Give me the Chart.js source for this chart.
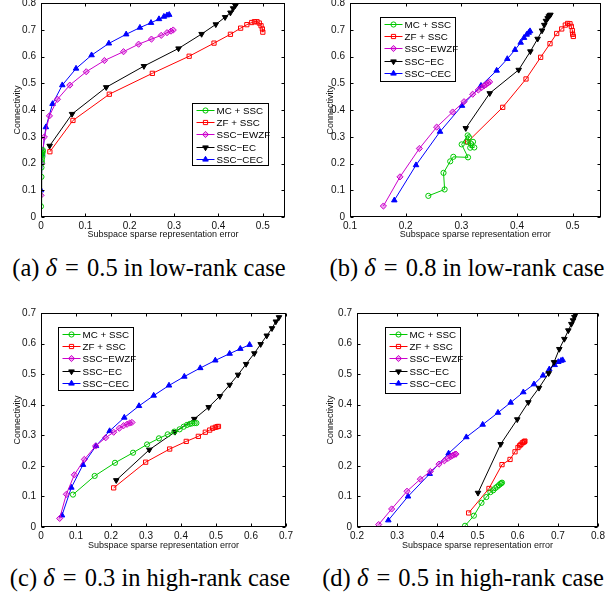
<!DOCTYPE html>
<html><head><meta charset="utf-8">
<script src="https://cdn.jsdelivr.net/npm/chart.js@4.4.1/dist/chart.umd.min.js"></script>
<style>
html,body{margin:0;padding:0;background:#fff;overflow:hidden;width:615px;height:598px;position:relative}
canvas{position:absolute}
.cap{position:absolute;font-family:"Liberation Serif","Times New Roman",serif;font-size:24.5px;color:#000;white-space:nowrap;transform:translate(-50%,-50%)}
.cap i{font-style:italic}
.cap .eq{margin:0 2px}
</style></head><body>
<canvas id="ca" width="300" height="257" style="left:0px;top:-12px"></canvas>
<canvas id="cb" width="315" height="257" style="left:300px;top:-12px"></canvas>
<canvas id="cc" width="300" height="262" style="left:0px;top:295px"></canvas>
<canvas id="cd" width="315" height="262" style="left:300px;top:295px"></canvas>
<div class="cap" style="left:149px;top:268px">(a) <i>δ</i> <span class="eq">=</span> 0.5 in low-rank case</div>
<div class="cap" style="left:467px;top:268px">(b) <i>δ</i> <span class="eq">=</span> 0.8 in low-rank case</div>
<div class="cap" style="left:150px;top:578px">(c) <i>δ</i> <span class="eq">=</span> 0.3 in high-rank case</div>
<div class="cap" style="left:463px;top:578px">(d) <i>δ</i> <span class="eq">=</span> 0.5 in high-rank case</div>
<script>
// ---------- DATA ----------
const seriesNames = ['MC + SSC','ZF + SSC','SSC\u2212EWZF','SSC\u2212EC','SSC\u2212CEC'];
const xTitle = 'Subspace sparse representation error';
const yTitle = 'Connectivity';

// (a) delta = 0.5, low-rank
const a_MC = [[0.000,0.040],[0.001,0.150],[0.001,0.185],[0.002,0.205],[0.002,0.215],[0.003,0.225],[0.003,0.235],[0.003,0.240],[0.004,0.245],[0.004,0.250]];
const a_ZF = [[0.020,0.244],[0.072,0.361],[0.154,0.459],[0.251,0.537],[0.334,0.601],[0.390,0.650],[0.427,0.683],[0.450,0.706],[0.464,0.719],[0.475,0.727],[0.481,0.730],[0.487,0.730],[0.492,0.725],[0.496,0.715],[0.499,0.703],[0.500,0.691]];
const a_EWZF = [[0.000,0.081],[0.0015,0.200],[0.0075,0.299],[0.019,0.378],[0.037,0.440],[0.065,0.493],[0.102,0.543],[0.143,0.585],[0.186,0.618],[0.220,0.646],[0.249,0.665],[0.271,0.679],[0.284,0.689],[0.293,0.695],[0.298,0.699]];
const a_EC = [[0.0195,0.266],[0.070,0.385],[0.147,0.485],[0.232,0.564],[0.310,0.630],[0.362,0.684],[0.394,0.720],[0.415,0.747],[0.427,0.764],[0.433,0.780],[0.438,0.791],[0.4415,0.800],[0.446,0.812]];
const a_CEC = [[0.000,0.100],[0.003,0.234],[0.011,0.336],[0.026,0.423],[0.048,0.493],[0.079,0.555],[0.114,0.605],[0.153,0.649],[0.192,0.683],[0.223,0.708],[0.248,0.726],[0.266,0.740],[0.277,0.749],[0.284,0.754],[0.289,0.756]];
const a_xTicks = [0,0.1,0.2,0.3,0.4,0.5];
const a_yTicks = [0,0.1,0.2,0.3,0.4,0.5,0.6,0.7,0.8];

// (b) delta = 0.8, low-rank
const b_MC = [[0.2407,0.079],[0.270,0.103],[0.268,0.165],[0.280,0.208],[0.2856,0.225],[0.312,0.223],[0.3006,0.2715],[0.3114,0.305],[0.3137,0.298],[0.3096,0.281],[0.3168,0.275],[0.316,0.259],[0.3233,0.260],[0.321,0.281]];
const b_ZF = [[0.3114,0.281],[0.3743,0.410],[0.4162,0.516],[0.4425,0.597],[0.4593,0.648],[0.4713,0.686],[0.4803,0.703],[0.4868,0.7175],[0.491,0.7235],[0.4952,0.7225],[0.4976,0.7125],[0.4994,0.697],[0.500,0.683],[0.5012,0.675]];
const b_EWZF = [[0.160,0.041],[0.1898,0.150],[0.2246,0.256],[0.2557,0.336],[0.2844,0.3925],[0.3048,0.431],[0.3204,0.459],[0.3305,0.475],[0.3365,0.484],[0.3407,0.490],[0.3443,0.495],[0.3479,0.501],[0.3509,0.505]];
const b_EC = [[0.308,0.332],[0.351,0.4625],[0.403,0.550],[0.424,0.619],[0.437,0.666],[0.445,0.697],[0.449,0.718],[0.452,0.733],[0.455,0.743],[0.457,0.750],[0.459,0.754],[0.460,0.756]];
const b_CEC = [[0.1796,0.0625],[0.2186,0.194],[0.2617,0.319],[0.3012,0.416],[0.3353,0.491],[0.3635,0.5475],[0.3826,0.591],[0.3964,0.625],[0.4066,0.652],[0.4126,0.670],[0.4174,0.682],[0.421,0.689],[0.4234,0.695]];
const b_xTicks = [0.1,0.2,0.3,0.4,0.5];
const b_yTicks = [0,0.1,0.2,0.3,0.4,0.5,0.6,0.7,0.8];

// (c) delta = 0.3, high-rank
const c_MC = [[0.0914,0.106],[0.1533,0.167],[0.2114,0.210],[0.263,0.243],[0.303,0.270],[0.337,0.290],[0.362,0.303],[0.381,0.312],[0.396,0.3195],[0.4076,0.328],[0.417,0.334],[0.425,0.337],[0.432,0.339],[0.439,0.340],[0.444,0.340]];
const c_ZF = [[0.2076,0.128],[0.299,0.212],[0.3676,0.255],[0.415,0.280],[0.4495,0.2965],[0.4695,0.310],[0.482,0.317],[0.4905,0.323],[0.498,0.326],[0.503,0.328],[0.507,0.329]];
const c_EWZF = [[0.0533,0.028],[0.0724,0.107],[0.0952,0.1707],[0.1238,0.221],[0.156,0.265],[0.1848,0.292],[0.2076,0.310],[0.2238,0.323],[0.236,0.3315],[0.2457,0.336],[0.2533,0.340],[0.260,0.342]];
const c_EC = [[0.215,0.153],[0.3095,0.2527],[0.3829,0.311],[0.438,0.3534],[0.479,0.392],[0.511,0.428],[0.539,0.465],[0.563,0.498],[0.586,0.533],[0.6095,0.568],[0.6276,0.598],[0.645,0.626],[0.660,0.650],[0.671,0.672],[0.680,0.686]];
const c_CEC = [[0.060,0.038],[0.0867,0.129],[0.120,0.2035],[0.157,0.265],[0.196,0.314],[0.238,0.358],[0.280,0.396],[0.322,0.430],[0.3657,0.463],[0.4095,0.492],[0.455,0.520],[0.498,0.545],[0.539,0.567],[0.5695,0.583],[0.596,0.596]];
const c_xTicks = [0,0.1,0.2,0.3,0.4,0.5,0.6,0.7];
const c_yTicks = [0,0.1,0.2,0.3,0.4,0.5,0.6,0.7];

// (d) delta = 0.5, high-rank
const d_MC = [[0.469,0.004],[0.491,0.037],[0.510,0.079],[0.522,0.098],[0.532,0.114],[0.539,0.120],[0.544,0.127],[0.549,0.132],[0.5535,0.137],[0.557,0.141],[0.559,0.143],[0.561,0.145]];
const d_ZF = [[0.478,0.046],[0.5286,0.126],[0.561,0.204],[0.581,0.221],[0.5934,0.246],[0.6008,0.260],[0.605,0.266],[0.608,0.270],[0.6116,0.275],[0.614,0.277],[0.6166,0.279],[0.618,0.281]];
const d_EWZF = [[0.2539,0.008],[0.2863,0.059],[0.3245,0.117],[0.3577,0.1565],[0.3826,0.1816],[0.4041,0.2057],[0.4174,0.2166],[0.4266,0.2243],[0.4332,0.230],[0.4382,0.234],[0.4432,0.2374],[0.4465,0.2385]];
const d_EC = [[0.5012,0.1116],[0.5577,0.271],[0.599,0.352],[0.6266,0.408],[0.6531,0.455],[0.6772,0.503],[0.6905,0.539],[0.7037,0.582],[0.7162,0.615],[0.7261,0.643],[0.7336,0.664],[0.7378,0.676],[0.7411,0.687],[0.7436,0.696],[0.746,0.701]];
const d_CEC = [[0.278,0.022],[0.327,0.100],[0.381,0.174],[0.428,0.2407],[0.4722,0.294],[0.5129,0.335],[0.551,0.374],[0.5826,0.407],[0.6141,0.441],[0.6407,0.467],[0.6631,0.4956],[0.6788,0.516],[0.6921,0.530],[0.7012,0.540],[0.7079,0.544],[0.712,0.546]];
const d_xTicks = [0.2,0.3,0.4,0.5,0.6,0.7,0.8];
const d_yTicks = [0,0.1,0.2,0.3,0.4,0.5,0.6,0.7];

// ---------- STYLES ----------
const styles = [
  {color:'#00c800', fill:'rgba(255,255,255,0)', pointStyle:'circle', radius:2.6, rot:0},
  {color:'#ff0000', fill:'rgba(255,255,255,0)', pointStyle:'rect', radius:3.0, rot:0},
  {color:'#cc00cc', fill:'rgba(204,0,204,0.35)', pointStyle:'rectRot', radius:3.1, rot:0},
  {color:'#000000', fill:'#000000', pointStyle:'triangle', radius:3.2, rot:180},
  {color:'#0000ff', fill:'#0000ff', pointStyle:'triangle', radius:3.2, rot:0}
];

function drawMarker(ctx, st, x, y){
  ctx.save();
  ctx.strokeStyle = st.color; ctx.fillStyle = st.fill; ctx.lineWidth = 1;
  const r = st.radius;
  ctx.beginPath();
  if (st.pointStyle==='circle'){ ctx.arc(x,y,r,0,Math.PI*2); }
  else if (st.pointStyle==='rect'){ const s=r*1.4; ctx.rect(x-s/2,y-s/2,s,s); }
  else if (st.pointStyle==='rectRot'){ ctx.moveTo(x,y-r); ctx.lineTo(x+r,y); ctx.lineTo(x,y+r); ctx.lineTo(x-r,y); ctx.closePath(); }
  else { const d = st.rot===180?-1:1; ctx.moveTo(x,y-d*r); ctx.lineTo(x+r*0.87,y+d*r*0.5); ctx.lineTo(x-r*0.87,y+d*r*0.5); ctx.closePath(); }
  ctx.fill(); ctx.stroke();
  ctx.restore();
}

const framePlugin = {
  id:'frame',
  afterDatasetsDraw(chart, args, opts){
    const ctx = chart.ctx, ca = chart.chartArea;
    const L=Math.round(ca.left)+0.5, R=Math.round(ca.right)-0.5, T=Math.round(ca.top)+0.5, B=Math.round(ca.bottom)-0.5;
    ctx.save();
    ctx.strokeStyle='#000'; ctx.lineWidth=1;
    ctx.strokeRect(L,T,R-L,B-T);
    const tl=3;
    ctx.beginPath();
    const xs=chart.scales.x, ys=chart.scales.y;
    xs.ticks.forEach(t=>{const p=Math.round(xs.getPixelForValue(t.value))+0.5; ctx.moveTo(p,B);ctx.lineTo(p,B-tl);ctx.moveTo(p,T);ctx.lineTo(p,T+tl);});
    ys.ticks.forEach(t=>{const p=Math.round(ys.getPixelForValue(t.value))+0.5; ctx.moveTo(L,p);ctx.lineTo(L+tl,p);ctx.moveTo(R,p);ctx.lineTo(R-tl,p);});
    ctx.stroke();
    // legend box
    const lg = opts.legend;
    const lx=Math.round(lg.x)+0.5, ly=Math.round(lg.y)+0.5;
    ctx.fillStyle='#fff';
    ctx.fillRect(lx,ly,lg.w,lg.h);
    ctx.strokeStyle='#000'; ctx.lineWidth=1;
    ctx.strokeRect(lx,ly,lg.w,lg.h);
    ctx.font='9.8px "Liberation Sans", Arial, sans-serif';
    ctx.textBaseline='middle'; ctx.textAlign='left';
    seriesNames.forEach((name,i)=>{
      const st=styles[i];
      const yy = Math.round(lg.y + 6.5 + i*12.4)+0.5;
      ctx.strokeStyle=st.color; ctx.lineWidth=1;
      ctx.beginPath(); ctx.moveTo(lx+4,yy); ctx.lineTo(lx+22,yy); ctx.stroke();
      drawMarker(ctx, st, lx+13, yy);
      ctx.fillStyle='#000';
      ctx.fillText(name, lx+24, yy+0.5);
    });
    ctx.restore();
  }
};

function makeDatasets(list){
  return list.map((pts,i)=>{
    const st=styles[i];
    return {
      label: seriesNames[i],
      data: pts.map(p=>({x:p[0],y:p[1]})),
      showLine:true, tension:0,
      borderColor: st.color, borderWidth:1,
      pointStyle: st.pointStyle, pointRadius: st.radius, pointRotation: st.rot,
      pointBorderColor: st.color, pointBackgroundColor: st.fill, pointBorderWidth:1,
      pointHoverRadius: st.radius
    };
  });
}

function makeChart(c){
  const padTop = c.ft - c.cy;
  const padRight = c.cx + c.cw - c.fr;
  const Wy = c.fl - c.cx;
  const Hx = c.cy + c.ch - c.fb;
  const yTitlePad = c.yTitleX - c.cx - 5.4;
  const xTitlePad = (c.cy + c.ch - c.xTitleY) - 5.4;
  const tickFont = {family:'"Liberation Sans", Arial, sans-serif', size:10};
  const titleFont = {family:'"Liberation Sans", Arial, sans-serif', size:9};
  const fmt = v => String(+(+v).toFixed(2));
  new Chart(document.getElementById(c.id), {
    type:'scatter',
    data:{datasets: makeDatasets(c.series)},
    options:{
      responsive:false, animation:false, devicePixelRatio:1,
      layout:{padding:{left:0,right:padRight,top:padTop,bottom:0}},
      plugins:{legend:{display:false}, tooltip:{enabled:false}, frame:{legend:{x:c.lg[0]-c.cx, y:c.lg[1]-c.cy, w:c.lg[2], h:c.lg[3]}}},
      scales:{
        x:{type:'linear', min:c.xr[0], max:c.xr[1],
           afterBuildTicks: s=>{ s.ticks = c.xt.map(v=>({value:v})); },
           afterFit: s=>{ s.height = Hx; },
           grid:{display:false, drawTicks:false}, border:{display:false},
           ticks:{font:tickFont, color:'#111', padding:3, maxRotation:0, autoSkip:false, callback:fmt},
           title:{display:true, text:xTitle, font:titleFont, color:'#111', padding:{top:0,bottom:xTitlePad}}},
        y:{type:'linear', min:c.yr[0], max:c.yr[1],
           afterBuildTicks: s=>{ s.ticks = c.yt.map(v=>({value:v})); },
           afterFit: s=>{ s.width = Wy; },
           grid:{display:false, drawTicks:false}, border:{display:false},
           ticks:{font:tickFont, color:'#111', padding:5, autoSkip:false, callback:fmt},
           title:{display:true, text:yTitle, font:titleFont, color:'#111', padding:{top:yTitlePad,bottom:0}}}
      }
    },
    plugins:[framePlugin]
  });
}

makeChart({id:'ca', cx:0, cy:-12, cw:300, ch:257, fl:41, fr:285, ft:3, fb:217, yTitleX:18, xTitleY:235,
  xr:[0,0.55], yr:[0,0.8], xt:a_xTicks, yt:a_yTicks, series:[a_MC,a_ZF,a_EWZF,a_EC,a_CEC], lg:[192,103,76,62]});
makeChart({id:'cb', cx:300, cy:-12, cw:315, ch:257, fl:350, fr:600.5, ft:3, fb:217, yTitleX:331, xTitleY:235,
  xr:[0.1,0.55], yr:[0,0.8], xt:b_xTicks, yt:b_yTicks, series:[b_MC,b_ZF,b_EWZF,b_EC,b_CEC], lg:[380,17,75,64]});
makeChart({id:'cc', cx:0, cy:295, cw:300, ch:262, fl:41, fr:286, ft:313, fb:527, yTitleX:18, xTitleY:546,
  xr:[0,0.7], yr:[0,0.7], xt:c_xTicks, yt:c_yTicks, series:[c_MC,c_ZF,c_EWZF,c_EC,c_CEC], lg:[58,327,75,63]});
makeChart({id:'cd', cx:300, cy:295, cw:315, ch:262, fl:357, fr:598, ft:313, fb:527, yTitleX:331, xTitleY:546,
  xr:[0.2,0.8], yr:[0,0.7], xt:d_xTicks, yt:d_yTicks, series:[d_MC,d_ZF,d_EWZF,d_EC,d_CEC], lg:[385,327,75,66]});
</script>
</body></html>
